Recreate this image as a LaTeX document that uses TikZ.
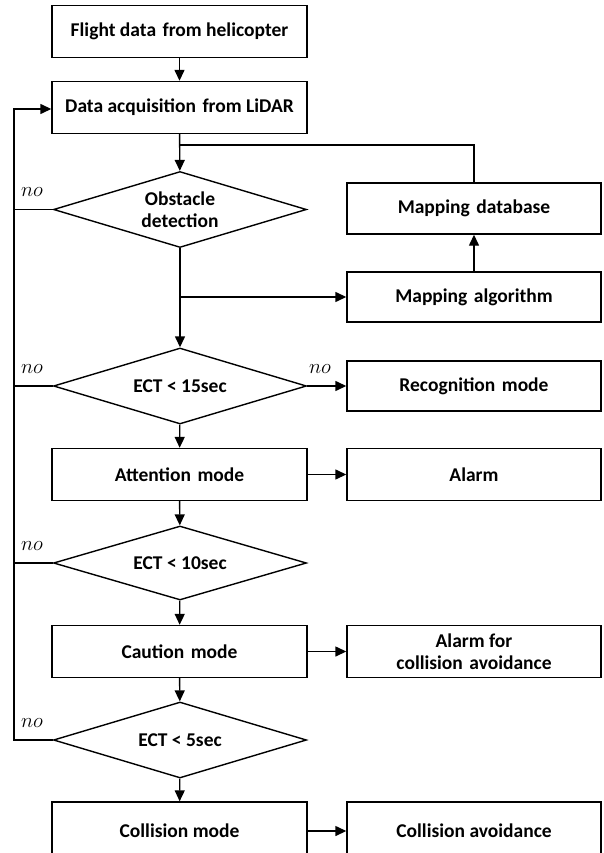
\documentclass[tikz,border=0pt]{standalone}
\usepackage{fontspec}
\setmainfont{Carlito}
\usepackage{tikz}
\usetikzlibrary{positioning,arrows.meta,shapes.geometric,calc}

\begin{document}
\begin{tikzpicture}[
    x=1pt, y=-1pt,
    every node/.style={font=\fontsize{19.5}{22}\selectfont\bfseries, align=center},
    procbox/.style={draw, line width=1.4pt, rectangle, minimum width=255pt, minimum height=52pt, inner sep=2pt},
    testbox/.style={draw, line width=1.4pt, diamond, aspect=3.4, inner sep=0pt, minimum width=253pt, minimum height=76pt},
    flow/.style={line width=1.4pt, -{Triangle[length=11pt,width=10pt]}},
    link/.style={line width=1.4pt},
    nolabel/.style={font=\fontsize{21}{24}\selectfont},
]
\useasboundingbox (0,0) rectangle (603,853);

% main column
\node[procbox] (flight) at (179.5,31.5) {Flight data\,\,from helicopter};
\node[procbox] (lidar) at (179.5,107.5) {Data acquisition\,\,from LiDAR};
\node[testbox] (obst) at (180,209.5) {Obstacle\\detection};
\node[testbox] (ect15) at (180,386) {ECT < 15sec};
\node[procbox] (attn) at (179.5,474.5) {Attention\,\,mode};
\node[testbox, minimum height=74pt] (ect10) at (180,563) {ECT < 10sec};
\node[procbox] (caution) at (179.5,651.5) {Caution\,\,mode};
\node[testbox] (ect5) at (180,740) {ECT < 5sec};
\node[procbox, minimum height=58pt] (collision) at (179.5,831) {Collision mode};

% right column
\node[procbox, minimum width=254pt, minimum height=51pt] (mapdb) at (474,208.5) {Mapping\,\,database};
\node[procbox, minimum width=254pt, minimum height=50pt] (mapalg) at (474,297) {Mapping\,\,algorithm};
\node[procbox, minimum width=254pt, minimum height=50pt] (recog) at (474,386) {Recognition\,\,mode};
\node[procbox, minimum width=254pt] (alarm) at (474,474.5) {Alarm};
\node[procbox, minimum width=254pt] (alarmca) at (474,651.5) {Alarm for\\collision\,\,avoidance};
\node[procbox, minimum width=254pt, minimum height=58pt] (collavoid) at (474,831) {Collision avoidance};

% vertical flow
\draw[flow] (flight) -- (lidar);
\draw[flow] (lidar) -- (obst);
\draw[flow] (obst) -- (ect15);
\draw[flow] (ect15) -- (attn);
\draw[flow] (attn) -- (ect10);
\draw[flow] (ect10) -- (caution);
\draw[flow] (caution) -- (ect5);
\draw[flow] (ect5) -- (collision);

% mapping loop
\coordinate (feed) at (lidar.south |- 0,145);
\draw[link] (mapdb.north) |- (feed);
\draw[flow] (obst.south |- mapalg.west) -- (mapalg.west);
\draw[flow] (mapalg) -- (mapdb);

% side outputs
\draw[flow] (ect15.east) -- (recog.west);
\draw[flow] (attn) -- (alarm);
\draw[flow] (caution) -- (alarmca);
\draw[flow] (collision) -- (collavoid);

% no branches back to LiDAR
\draw[flow] (ect5.west) -- ++(-39,0) coordinate (back) |- ($(lidar.west)+(0,1.5)$);
\draw[link] (ect10.west) -- (ect10.west -| back);
\draw[link] (ect15.west) -- (ect15.west -| back);
\draw[link] (obst.west) -- (obst.west -| back);

\node[nolabel] (no1) at (32,192) {$no$};
\node[nolabel] (no2) at (32,369) {$no$};
\node[nolabel] (no3) at (320,369) {$no$};
\node[nolabel] (no4) at (32,546) {$no$};
\node[nolabel] (no5) at (32,723) {$no$};
\end{tikzpicture}
\end{document}
